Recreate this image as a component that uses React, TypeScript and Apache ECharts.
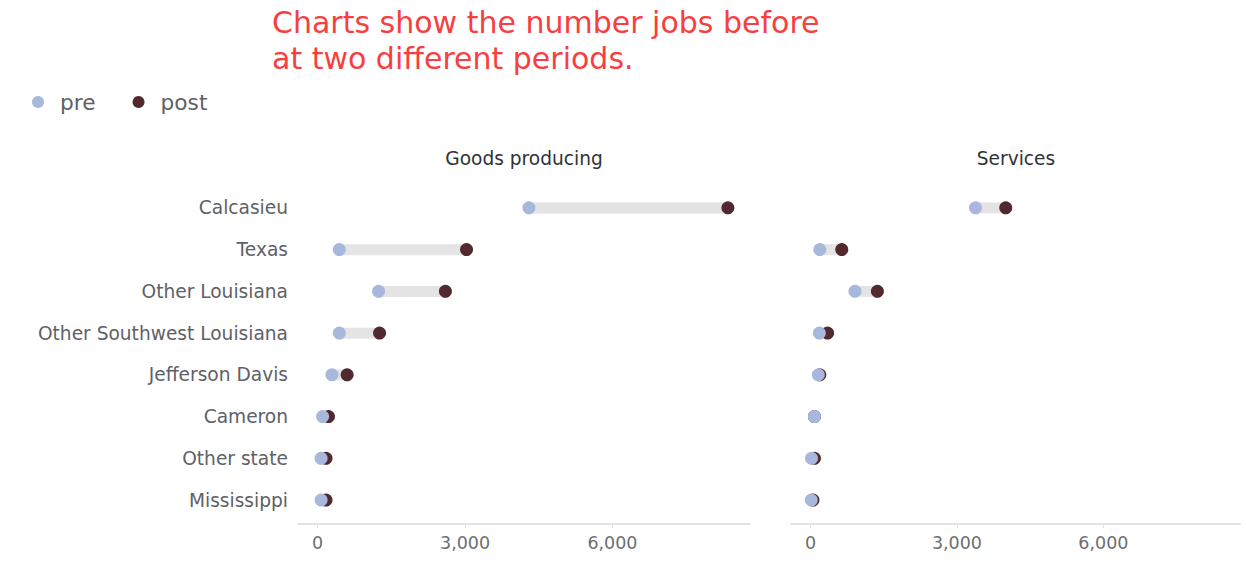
import React, { useEffect, useRef } from "react";
import * as echarts from "echarts";

const categories = [
  "Calcasieu",
  "Texas",
  "Other Louisiana",
  "Other Southwest Louisiana",
  "Jefferson Davis",
  "Cameron",
  "Other state",
  "Mississippi",
];

const goodsPre = [4300, 440, 1240, 440, 290, 100, 70, 70];
const goodsPost = [8350, 3030, 2600, 1260, 600, 220, 170, 170];

const servicesPre = [3380, 190, 910, 180, 160, 80, 20, 15];
const servicesPost = [4000, 640, 1370, 350, 190, 80, 80, 50];

const tickValues = [0, 3000, 6000];
const panelTitles = ["Goods producing", "Services"];
const headline = "Charts show the number jobs before\nat two different periods.";

const PRE_COLOR = "#a8b8dc";
const POST_COLOR = "#51292e";
const RANGE_COLOR = "#e4e4e4";
const FONT = "'DejaVu Sans', sans-serif";

function rangeSeries(pre: number[], post: number[], idx: number) {
  return {
    type: "custom",
    xAxisIndex: idx,
    yAxisIndex: idx,
    silent: true,
    encode: { x: [0, 1], y: 2 },
    data: pre.map((p, i) => [p, post[i], i]),
    renderItem: (params: any, api: any) => {
      const a = api.coord([api.value(0), api.value(2)]);
      const b = api.coord([api.value(1), api.value(2)]);
      const h = 11;
      const x0 = Math.min(a[0], b[0]);
      const x1 = Math.max(a[0], b[0]);
      return {
        type: "rect",
        shape: { x: x0, y: a[1] - h / 2, width: x1 - x0, height: h },
        style: { fill: RANGE_COLOR },
      };
    },
    z: 1,
  };
}

function dotSeries(name: string, values: number[], color: string, idx: number, z: number) {
  return {
    type: "scatter",
    name,
    xAxisIndex: idx,
    yAxisIndex: idx,
    symbol: "circle",
    symbolSize: 13,
    itemStyle: { color, opacity: 1 },
    data: values.map((v, i) => [v, categories[i]]),
    z,
  };
}

export default function App() {
  const ref = useRef<HTMLDivElement>(null);
  useEffect(() => {
    document.body.style.margin = "0";
    const chart = echarts.init(ref.current!, null, { renderer: "svg" });
    const lefts = [298, 791];
    const widths = [452, 449];
    const titleLefts = [519, 1011];
    const xAxisCommon = (gi: number) => ({
      type: "value",
      gridIndex: gi,
      min: -400,
      max: 8800,
      offset: 3,
      splitLine: { show: false },
      axisLine: { show: true, lineStyle: { color: "#e3e3e3", width: 2 } },
      axisTick: {
        show: true,
        customValues: tickValues,
        length: 4,
        lineStyle: { color: "#e3e3e3" },
      },
      axisLabel: {
        customValues: tickValues,
        formatter: (v: number) => v.toLocaleString("en-US"),
        color: "#6b6e73",
        fontSize: 17.5,
        fontFamily: FONT,
        margin: 10,
      },
    });
    const yAxisCommon = (gi: number, showLabels: boolean) => ({
      type: "category",
      gridIndex: gi,
      data: categories,
      inverse: true,
      axisLine: { show: false },
      axisTick: { show: false },
      splitLine: { show: false },
      axisLabel: {
        show: showLabels,
        color: "#5e6166",
        fontSize: 18.6,
        fontFamily: FONT,
        margin: 10,
      },
    });
    chart.setOption({
      animation: false,
      backgroundColor: "#ffffff",
      title: [
        {
          text: headline,
          left: 267,
          top: -1,
          textStyle: {
            color: "#f73f3f",
            fontSize: 30,
            fontWeight: "normal",
            fontFamily: FONT,
            lineHeight: 36,
          },
        },
        ...panelTitles.map((t, i) => ({
          text: t,
          left: titleLefts[i],
          top: 144,
          textAlign: "center",
          textStyle: {
            color: "#2f3338",
            fontSize: 18.6,
            fontWeight: "normal",
            fontFamily: FONT,
          },
        })),
      ],
      legend: {
        left: 27,
        top: 86,
        icon: "circle",
        itemWidth: 12,
        itemHeight: 12,
        itemGap: 37,
        data: ["pre", "post"],
        textStyle: {
          color: "#5e6166",
          fontSize: 21.7,
          fontFamily: FONT,
          padding: [0, 0, 0, 11],
        },
      },
      grid: lefts.map((l, i) => ({
        left: l,
        width: widths[i],
        top: 187,
        height: 334,
        containLabel: false,
      })),
      xAxis: [xAxisCommon(0), xAxisCommon(1)],
      yAxis: [yAxisCommon(0, true), yAxisCommon(1, false)],
      series: [
        rangeSeries(goodsPre, goodsPost, 0),
        dotSeries("post", goodsPost, POST_COLOR, 0, 2),
        dotSeries("pre", goodsPre, PRE_COLOR, 0, 3),
        rangeSeries(servicesPre, servicesPost, 1),
        dotSeries("post", servicesPost, POST_COLOR, 1, 2),
        dotSeries("pre", servicesPre, PRE_COLOR, 1, 3),
      ],
    });
    return () => chart.dispose();
  }, []);
  return <div ref={ref} style={{ width: 1246, height: 586 }} />;
}
